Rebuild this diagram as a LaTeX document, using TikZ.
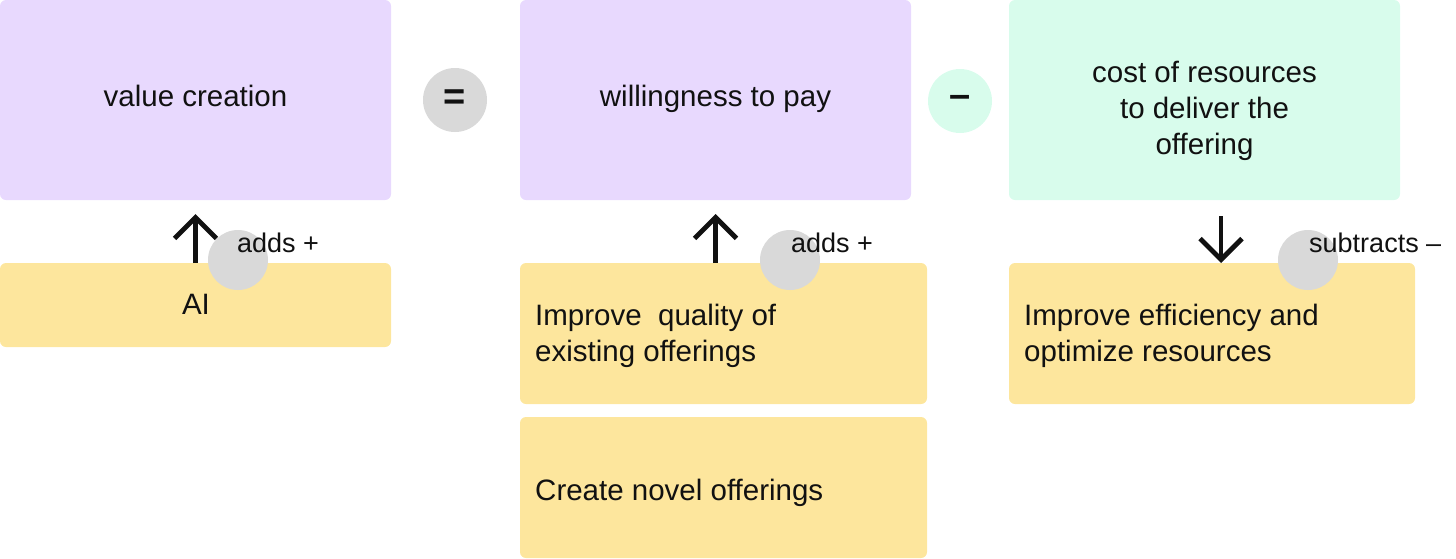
\documentclass[tikz,border=0pt]{standalone}
\usepackage{fontspec}
\setmainfont{Liberation Sans}
\usetikzlibrary{arrows.meta}
\definecolor{lilac}{HTML}{E8D9FE}
\definecolor{mint}{HTML}{D8FCEC}
\definecolor{butter}{HTML}{FDE69D}
\definecolor{pebble}{HTML}{D9D9D9}
\definecolor{ink}{HTML}{111111}
\begin{document}
\begin{tikzpicture}[x=1pt,y=-1pt,
  box/.style={rounded corners=6pt, inner sep=0pt, outer sep=0pt, anchor=north west, draw=none},
  txt/.style={inner sep=0pt, text=ink, font=\fontsize{29.5}{36}\selectfont},
  lbl/.style={inner sep=0pt, text=ink, font=\fontsize{27}{32}\selectfont, anchor=base west},
  op/.style={circle, inner sep=0pt, minimum size=64pt, text=ink, font=\fontsize{38}{40}\selectfont\bfseries},
  dot/.style={circle, fill=pebble, inner sep=0pt, minimum size=60pt},
  arr/.style={line width=4.8pt, draw=ink, -{Straight Barb[length=21pt,width=42pt,line width=4.8pt]}}]
\useasboundingbox (0,0) rectangle (1456,558);
% top boxes
\node[box, fill=lilac, minimum width=391pt, minimum height=200pt] (vc) at (0,0) {};
\node[box, fill=lilac, minimum width=391pt, minimum height=200pt] (wp) at (520,0) {};
\node[box, fill=mint, minimum width=391pt, minimum height=200pt] (cost) at (1009,0) {};
% bottom boxes
\node[box, fill=butter, minimum width=391pt, minimum height=84pt] (ai) at (0,263) {};
\node[box, fill=butter, minimum width=407pt, minimum height=141pt] (iq) at (520,263) {};
\node[box, fill=butter, minimum width=407pt, minimum height=141pt] (nov) at (520,417) {};
\node[box, fill=butter, minimum width=406pt, minimum height=141pt] (eff) at (1009,263) {};
% operators
\node[op, fill=pebble] (eq) at (455,100) {=};
\node[op, fill=mint] (mi) at (960,101) {–};
% texts
\node[txt, anchor=base] (vct) at (195.5,106) {value creation};
\node[txt, anchor=base] (wpt) at (715.5,106) {willingness to pay};
\node[txt, anchor=base] (costt) at (1204.5,82) {\begin{tabular}[t]{@{}c@{}}cost of resources\\to deliver the\\offering\end{tabular}};
% gray dots
\node[dot] (d1) at (238,260) {};
\node[dot] (d2) at (790,260) {};
\node[dot] (d3) at (1308,260) {};
\node[txt, anchor=base] (ait) at (196,314) {AI};
\node[txt, anchor=base west] (iqt) at (535,325) {\begin{tabular}[t]{@{}l@{}}Improve\ \ quality of\\existing offerings\end{tabular}};
\node[txt, anchor=base west] (novt) at (535,500) {Create novel offerings};
\node[txt, anchor=base west] (efft) at (1024,325) {\begin{tabular}[t]{@{}l@{}}Improve efficiency and\\optimize resources\end{tabular}};
% labels
\node[lbl] (l1) at (237,252) {adds +};
\node[lbl] (l2) at (791,252) {adds +};
\node[lbl] (l3) at (1309,252) {subtracts –};
% arrows
\draw[arr, shorten >=14pt] (ai.north) -- (vc.south);
\draw[arr, shorten >=14pt] (iq.north -| wp.south) -- (wp.south);
\draw[arr, shorten <=16pt] ([xshift=16.5pt]cost.south) -- ([xshift=16.5pt]cost.south |- eff.north);
\end{tikzpicture}
\end{document}
